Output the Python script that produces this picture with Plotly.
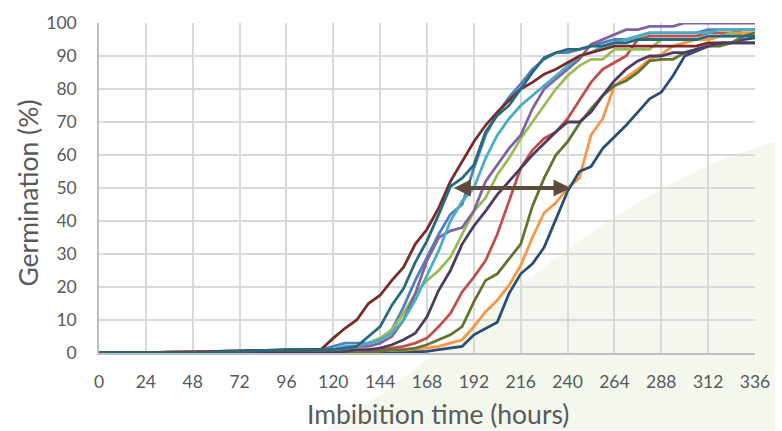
import plotly.graph_objects as go

hours = list(range(0, 337, 6))

blue = [0,0,0,0,0,0,0,0,0,0,0, 0.3,0.5,0.5,0.6,0.8,1,1,1,1,
        2,3,3,3,4,7,14,22,29,36,
        42,45,56,66,72.5,77.5,81.5,86,89,91,
        91,92,93,94,95,95,96,97,97,97,
        97,97,98,98,98,98,98]
red = [0]*23 + [0.5,1,1.5,2,3,4.5,8,
        12,18.5,23,28,36,46,56,61.5,65,67,
        71,76.5,82,86,88,90,95,96,96,96,
        96,96,97,97,97,98,98]
green = [0]*21 + [1,2,3,4.5,7,12,18,22,25,
        29,36,43,47,54,59,65,70,75,80,
        84,87,89,89,92,92,92,92,95,95,
        95,95,95,96,97,97,97]
purple = [0,0,0,0,0,0,0,0,0,0,0, 0.3,0.5,0.5,0.6,0.8,1,1,1,1,
        1,1.5,2,2,3,5,10,18,28,35,
        37,38,43,52,57,62,66,74,80,83,
        86,89,93.5,95,96.5,98,98,99,99,99,
        100,100,100,100,100,100,100]
aqua = [0,0,0,0,0,0,0,0,0,0,0, 0.3,0.5,0.5,0.6,0.8,1,1,1,1,
        1,2,2,3,4,6,10,16,23.5,31,
        40,46,50,59,66,71,75,78,81,84,
        87,90,91,93,94,95,96,97,97,97,
        97,97,97,98,98,98,98]
orange = [0]*26 + [0.5,1,1.5,2,
        3,4,8,12.5,16,20.5,26.5,35,42.5,45.5,
        50,53,66,71,81,83.5,86,89,90.5,93,
        94,95,95,96,96,97,97]
navy = [0]*27 + [0.3,0.5,1,
        1.5,2,5.5,7.5,9.3,18,24,27,32,40.5,
        49,55,56.5,62,65.5,69,73,77,79,84,
        90,91.5,93,93.5,94,95,95.5]
maroon = [0,0,0,0,0.2,0.2,0.3,0.3,0.4,0.5,0.5,0.6,0.7,0.8,0.9,1,1,1,1,1.2,
        4.5,7.5,10,15,17.5,22,26,33,37.5,44,
        52,58,64,69,73,76.5,80,82,84.5,86,
        88,90,91,92,93,93,93,93,93,93,
        93,93,94,94,94,94,94]
olive = [0]*24 + [0.5,1,1,1.5,2.5,4,
        5.5,8,15.5,22,24,28.5,33,44.5,53,60,
        64,69.5,74,78,81,82.5,85,88.5,89,89,
        91,92,93,93,94,96,97]
dpurple = [0]*21 + [0.5,1,1,1.5,2.5,4,6,11,19,
        25,33,38.5,43,48,52,56,60,63.5,67,
        70,70,73,78,82.5,86,88.5,90,90,91,
        91,92,93,94,94,94,94]
teal = [0,0,0,0,0,0,0,0,0,0, 0.3,0.5,0.5,0.6,0.8,1,1,1,1,1,
        1,1.5,2,5,8,14.5,19.5,27.5,34,42,
        50.5,53,57,67,72,75,80,85,89.5,91,
        92,92,93,93,94,94,95,95,95,95,
        95,95,96,96,96,96,96]

series = [
    ("S1", blue, "#4F81BD"),
    ("S2", red, "#C0504D"),
    ("S3", green, "#9BBB59"),
    ("S4", purple, "#8064A2"),
    ("S5", aqua, "#4BACC6"),
    ("S6", orange, "#F79646"),
    ("S7", navy, "#2C4D75"),
    ("S8", maroon, "#772C2A"),
    ("S9", olive, "#5F7530"),
    ("S10", dpurple, "#4D3B62"),
    ("S11", teal, "#276A7C"),
]

x_title = "Imbibition time (hours)"
y_title = "Germination (%)"

arrow_y = 50
arrow_x0 = 181
arrow_x1 = 241.5

fig = go.Figure()
for name, vals, col in series:
    fig.add_trace(go.Scatter(x=hours, y=vals, mode="lines", name=name,
                             line=dict(color=col, width=2.8), cliponaxis=False,
                             showlegend=False, hoverinfo="skip"))

fig.add_annotation(x=arrow_x1, y=arrow_y, ax=arrow_x0, ay=arrow_y,
                   xref="x", yref="y", axref="x", ayref="y",
                   showarrow=True, arrowside="end+start", arrowhead=2,
                   arrowsize=0.85, arrowwidth=4, arrowcolor="#5E4B3C", text="")

font_family = "Lato, 'Open Sans', sans-serif"

fig.add_annotation(text=x_title, xref="paper", yref="paper", x=0.517, y=-0.186,
                   xanchor="center", yanchor="middle", showarrow=False,
                   font=dict(size=26.5, color="#595959", family=font_family))
fig.add_annotation(text=y_title, xref="paper", yref="paper", x=-0.108, y=0.4835,
                   xanchor="center", yanchor="middle", showarrow=False, textangle=-90,
                   font=dict(size=26.5, color="#595959", family=font_family))

fig.add_shape(type="path", xref="paper", yref="paper", layer="below",
              path="M 0.345,-0.234 C 0.558,0.009 0.753,0.488 1.03,0.64 L 1.03,-0.234 Z",
              fillcolor="rgb(243,247,237)", line=dict(width=0))

fig.update_layout(
    width=782, height=431, autosize=False,
    margin=dict(l=99, r=18, t=19, b=78),
    paper_bgcolor="white", plot_bgcolor="rgba(0,0,0,0)",
    font=dict(family=font_family, color="#595959"),
    xaxis=dict(range=[0, 336], tickmode="array", tickvals=list(range(0, 337, 24)),
               showgrid=True, gridcolor="#d9d9d9", gridwidth=1.5,
               showline=True, linecolor="#bfbfbf", linewidth=1.5,
               zeroline=False, ticks="", tickfont=dict(size=17.5, color="#595959"),
               ticklabelstandoff=12),
    yaxis=dict(range=[0, 100], dtick=10, showgrid=True, gridcolor="#d9d9d9", gridwidth=1.5,
               showline=True, linecolor="#bfbfbf", linewidth=1.5,
               zeroline=False, ticks="", tickfont=dict(size=17.5, color="#595959"),
               ticklabelstandoff=17),
)

fig.write_html("out.html", config={"displayModeBar": False},
               post_script="document.body.style.margin='0';document.body.style.overflow='hidden';")
